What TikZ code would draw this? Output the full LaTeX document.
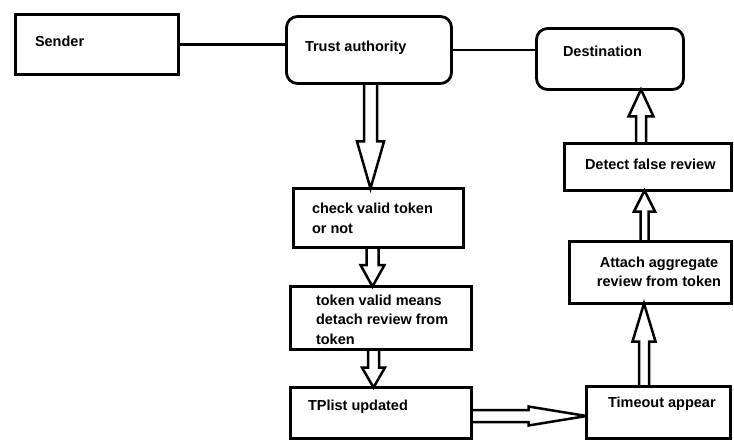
\documentclass[tikz,border=0pt]{standalone}
\usepackage{fontspec}
\setmainfont{Liberation Sans}
\usetikzlibrary{calc}
% hollow block arrows: #1 start, #2 tip, #3 half shaft, #4 half head, #5 head length
\newcommand\vdown[5]{\draw[hollow] let \p1=#1, \p2=#2 in
  (\x1-#3,\y1) -- (\x1-#3,\y2+#5) -- (\x1-#4,\y2+#5) -- (\x1,\y2)
  -- (\x1+#4,\y2+#5) -- (\x1+#3,\y2+#5) -- (\x1+#3,\y1);}
\newcommand\vup[5]{\draw[hollow] let \p1=#1, \p2=#2 in
  (\x1-#3,\y1) -- (\x1-#3,\y2-#5) -- (\x1-#4,\y2-#5) -- (\x1,\y2)
  -- (\x1+#4,\y2-#5) -- (\x1+#3,\y2-#5) -- (\x1+#3,\y1);}
\newcommand\hright[5]{\draw[hollow] let \p1=#1, \p2=#2 in
  (\x1,\y1+#3) -- (\x2-#5,\y1+#3) -- (\x2-#5,\y1+#4) -- (\x2,\y1)
  -- (\x2-#5,\y1-#4) -- (\x2-#5,\y1-#3) -- (\x1,\y1-#3);}
\begin{document}
\begin{tikzpicture}[x=1pt,y=-1pt,
  box/.style={draw=black, line width=2.8pt, rectangle, inner sep=0pt, outer sep=0pt, anchor=north west},
  rbox/.style={box, rounded corners=11pt},
  txt/.style={inner sep=0pt, outer sep=0pt, anchor=base west, font=\bfseries\fontsize{14.5}{19.5}\selectfont},
  hollow/.style={draw=black, line width=2.5pt, line join=miter, miter limit=4},
  link/.style={draw=black, line width=2.8pt}]
\fill[white] (0,0) rectangle (734,441);
\useasboundingbox (0,0) rectangle (734,441);

% boxes
\node[box, minimum width=163pt, minimum height=60pt] (s) at (15.5,14.5) {};
\node[rbox, minimum width=165pt, minimum height=67pt] (t) at (286.5,16.5) {};
\node[rbox, minimum width=147pt, minimum height=61pt] (d) at (536.5,28.5) {};
\node[box, minimum width=170pt, minimum height=59pt] (cv) at (293.5,188.5) {};
\node[box, minimum width=181pt, minimum height=63pt] (tv) at (290.5,286.5) {};
\node[box, minimum width=181pt, minimum height=51pt] (tp) at (290.5,387.5) {};
\node[box, minimum width=144pt, minimum height=52pt] (to) at (586.5,386.5) {};
\node[box, minimum width=162pt, minimum height=62pt] (at) at (569.5,241.5) {};
\node[box, minimum width=167pt, minimum height=47pt] (df) at (564.5,143.5) {};

% texts
\node[txt] (st) at (35,47) {Sender};
\node[txt] (tt) at (305,52) {Trust authority};
\node[txt] (dt) at (563,57) {Destination};
\node[txt] (cvt) at (312,214) {\parbox[t]{150pt}{check valid token\\or not}};
\node[txt] (tvt) at (316,305) {\parbox[t]{155pt}{token valid means\\detach review from\\token}};
\node[txt] (tpt) at (308,410) {TPlist updated};
\node[txt] (tot) at (608,407) {Timeout appear};
\node[txt, anchor=base] (att) at (659,267) {\parbox[t]{150pt}{\centering Attach aggregate\\review from token}};
\node[txt] (dft) at (585,170) {Detect false review};

% plain connectors
\draw[link] (s.east) -- (s.east -| t.west);
\draw[link] (t.east) -- (t.east -| d.west);

% arrow axes
\coordinate (a1) at (370.5,0);
\coordinate (a2) at (372.5,0);
\coordinate (a3) at (373.5,0);
\coordinate (a4) at (0,416);
\coordinate (a5) at (644,0);
\coordinate (a6) at (644.5,0);
\coordinate (a7) at (641,0);

% hollow block arrows
\vdown{(t.south -| a1)}{(cv.north -| a1)}{6.5}{13.5}{47}
\vdown{(cv.south -| a2)}{(tv.north -| a2)}{6}{12}{21.5}
\vdown{(tv.south -| a3)}{(tp.north -| a3)}{5.5}{11.5}{20}
\hright{(tp.east |- a4)}{(to.west |- a4)}{6}{9.5}{58}
\vup{(to.north -| a5)}{(at.south -| a5)}{5}{11.5}{38}
\vup{(at.north -| a6)}{(df.south -| a6)}{4}{10.5}{21}
\vup{(df.north -| a7)}{(d.south -| a7)}{5}{12.5}{27}
\end{tikzpicture}
\end{document}
